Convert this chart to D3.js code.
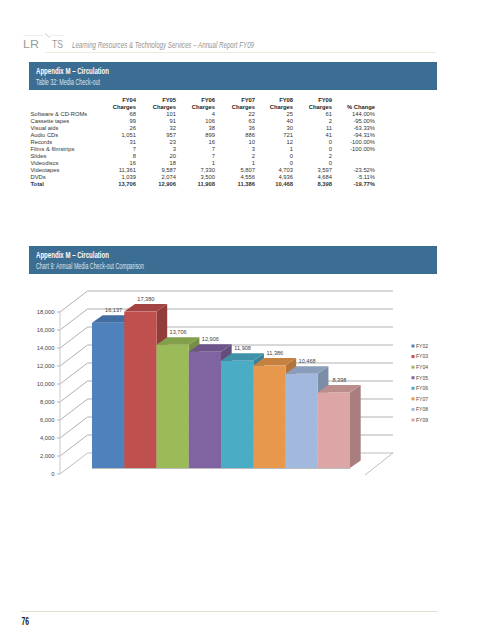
<!DOCTYPE html>
<html><head><meta charset="utf-8">
<script src="https://cdnjs.cloudflare.com/ajax/libs/d3/7.8.5/d3.min.js"></script>
<style>html,body{margin:0;background:#fff}svg{display:block}</style></head>
<body><svg id="c" width="495" height="640"></svg>
<script>
const years=["FY02","FY03","FY04","FY05","FY06","FY07","FY08","FY09"];
const totals=[16137,17380,13706,12906,11908,11386,10468,8398];
const barColors=["#4f81bd","#c0504d","#9bbb59","#8064a2","#4bacc6","#e8984c","#a2b8dc","#dba6a5"];
const yTicks=[0,2000,4000,6000,8000,10000,12000,14000,16000,18000];
const tableYears=["FY04","FY05","FY06","FY07","FY08","FY09"];
const rowNames=["Software & CD-ROMs","Cassette tapes","Visual aids","Audio CDs","Records","Films & filmstrips","Slides","Videodiscs","Videotapes","DVDs","Total"];
const rowValues=[
["68","101","4","22","25","61","144.00%"],
["99","91","106","63","40","2","-95.00%"],
["26","32","38","36","30","11","-63.33%"],
["1,051","957","899","886","721","41","-94.31%"],
["31","23","16","10","12","0","-100.00%"],
["7","3","7","3","1","0","-100.00%"],
["8","20","7","2","0","2",""],
["16","18","1","1","0","0",""],
["11,361","9,587","7,330","5,807","4,703","3,597","-23.52%"],
["1,039","2,074","3,500","4,556","4,936","4,684","-5.11%"],
["13,706","12,906","11,908","11,386","10,468","8,398","-19.77%"]];

const svg=d3.select("#c");
const narrow="'Liberation Sans Narrow','Liberation Sans',sans-serif";
const sans="'Liberation Sans',Arial,sans-serif";
const txt=(s,x,y,o={})=>{const t=svg.append("text").attr("x",x).attr("y",y).text(s)
 .attr("font-family",o.f||sans).attr("font-size",o.s||5.8).attr("fill",o.c||"#333")
 .attr("text-anchor",o.a||"start");
 if(o.b)t.attr("font-weight","bold"); if(o.i)t.attr("font-style","italic");
 if(o.len)t.attr("textLength",o.len).attr("lengthAdjust","spacingAndGlyphs"); return t;};

// page header
txt("LR",23,48,{s:11,c:"#9a9a9a",len:16});
txt("TS",52,48,{s:11,c:"#9a9a9a",len:11});
svg.append("line").attr("x1",45).attr("y1",33.5).attr("x2",50).attr("y2",37.7).attr("stroke","#aaa").attr("stroke-width",.6);
svg.append("line").attr("x1",23).attr("y1",35.5).attr("x2",43).attr("y2",35.5).attr("stroke","#e6e6e6").attr("stroke-width",.7);
svg.append("line").attr("x1",50).attr("y1",35.5).attr("x2",64).attr("y2",35.5).attr("stroke","#e6e6e6").attr("stroke-width",.7);
txt("Learning Resources & Technology Services – Annual Report FY09",72,47.5,{f:narrow,s:9.5,c:"#949494",i:1,len:182});
svg.append("line").attr("x1",45).attr("y1",52.5).attr("x2",436).attr("y2",52.5).attr("stroke","#ecebe0").attr("stroke-width",1.2);

// banners
const banner=(y,a,b,lb)=>{
 svg.append("rect").attr("x",29).attr("y",y).attr("width",408).attr("height",28).attr("fill","#3c6d92");
 txt(a,36,y+12,{f:narrow,s:8.5,c:"#fff",b:1,len:73});
 txt(b,36,y+23,{f:narrow,s:8.5,c:"#dde6ee",len:lb});
};
banner(62,"Appendix M – Circulation","Table 32: Media Check-out",64);
banner(246,"Appendix M – Circulation","Chart 9: Annual Media Check-out Comparison",108);

// table
const colRight=[136,176,215,255,293,332,375];
tableYears.forEach((h,i)=>{
 txt(h,colRight[i],102,{a:"end",b:1,c:"#222"});
 txt("Charges",colRight[i],109.2,{a:"end",b:1,c:"#222"});
});
txt("% Change",colRight[6],109.2,{a:"end",b:1,c:"#222"});
const rowY=d3.scalePoint().domain(rowNames).range([116,186]);
rowNames.forEach((n,r)=>{
 const bold=n==="Total";
 txt(n,30.5,rowY(n),{b:bold,c:"#333"});
 rowValues[r].forEach((v,i)=>{ if(v) txt(v,colRight[i],rowY(n),{a:"end",b:bold,c:"#333"}); });
});

// chart: oblique 3D projection
const yFront=d3.scaleLinear().domain([0,18000]).range([474,312]);
const wallDx=27.5, wallDy=-21;
const axisX=60, wallRight=393, floorFrontRight=365;
const grid=svg.append("g");
yTicks.forEach(t=>{
 const y=yFront(t);
 grid.append("path").attr("fill","none").attr("stroke",t===0?"#b5b5b5":"#a8a8a8").attr("stroke-width",.9)
  .attr("d",`M${axisX-3},${y}L${axisX},${y}L${axisX+wallDx},${y+wallDy}L${wallRight},${y+wallDy}`+(t===0?`L${floorFrontRight},${y+1}`:""));
 txt(d3.format(",")(t),54.5,y+2.1,{a:"end",c:"#444"});
});
grid.append("line").attr("x1",axisX).attr("x2",axisX).attr("y1",yFront(18000)).attr("y2",yFront(0)).attr("stroke","#c8c8c8").attr("stroke-width",1);

const x=d3.scaleBand().domain(years).range([92,350]);
const yBar=d3.scaleLinear().domain([0,18000]).range([468,306]);
const dx=10.7, dy=-7.5;
const bars=svg.append("g");
years.forEach((k,i)=>{
 const c=d3.color(barColors[i]), x0=x(k), w=x.bandwidth(), yt=yBar(totals[i]), yb=yBar(0);
 bars.append("path").attr("fill",c.darker(.75)).attr("d",`M${x0+w},${yt}L${x0+w+dx},${yt+dy}L${x0+w+dx},${yb+dy}L${x0+w},${yb}Z`);
 bars.append("path").attr("fill",c.darker(.45)).attr("d",`M${x0},${yt}L${x0+dx},${yt+dy}L${x0+w+dx},${yt+dy}L${x0+w},${yt}Z`);
 bars.append("rect").attr("x",x0).attr("y",yt).attr("width",w).attr("height",yb-yt).attr("fill",c);
});
// value labels sit above everything
years.forEach((k,i)=>{
 txt(d3.format(",")(totals[i]),x(k)+x.bandwidth()/2+5.5,yBar(totals[i])+dy-3,{a:"middle",c:"#444",s:5.6});
});
bars.append("line").attr("x1",92).attr("x2",350).attr("y1",468.5).attr("y2",468.5).attr("stroke","#a9a9a9").attr("stroke-width",.8);

// legend
const ly=d3.scalePoint().domain(years).range([346,420]);
years.forEach((k,i)=>{
 svg.append("rect").attr("x",411.5).attr("y",ly(k)-1.5).attr("width",3).attr("height",3).attr("fill",barColors[i]);
 txt(k,416,ly(k)+1.9,{s:5,c:"#444"});
});

// footer
svg.append("line").attr("x1",21).attr("y1",611.5).attr("x2",438).attr("y2",611.5).attr("stroke","#e2e0cf").attr("stroke-width",1);
txt("76",21.5,625,{f:narrow,s:11,b:1,c:"#222",len:7.5});
</script></body></html>
